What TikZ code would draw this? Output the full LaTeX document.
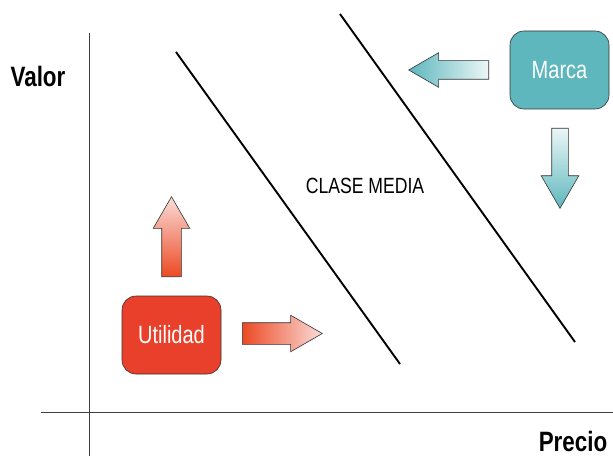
\documentclass[tikz,border=0pt]{standalone}
\usepackage{fontspec}
\setmainfont{Liberation Sans}[FakeStretch=0.8]
\usetikzlibrary{shapes.arrows}

\definecolor{utilred}{HTML}{E8402A}
\definecolor{marcateal}{HTML}{5DB7BD}

\begin{document}
\begin{tikzpicture}[x=1pt, y=1pt,
    axis/.style={draw=black!75, line width=0.9pt},
    divider/.style={draw=black, line width=1.9pt},
    box/.style={draw=black!80, line width=0.6pt, rounded corners=14pt,
      minimum width=99pt, minimum height=78pt, text=white, font=\fontsize{25}{30}\selectfont},
    arrowbox/.style={single arrow, draw=black!80, line width=0.6pt, inner xsep=0pt,
      minimum height=80pt, single arrow tip angle=60, anchor=tail}]
    \useasboundingbox (0,0) rectangle (613,456);

    % ejes
    \draw[axis] (89,423) -- (89,0);
    \draw[axis] (41,44) -- (613,44);
    \node[font=\bfseries\fontsize{28}{32}\selectfont] (valor) at (38,380) {Valor};
    \node[font=\bfseries\fontsize{28}{32}\selectfont] (precio) at (573,15) {Precio};

    % lineas de clase
    \draw[divider] (176,404) -- (400,92);
    \draw[divider] (340,442) -- (575,114);
    \node[font=\fontsize{22}{26}\selectfont] (clase) at (365,270) {CLASE MEDIA};

    % cajas
    \node[box, fill=utilred] (utilidad) at (171.5,121) {Utilidad};
    \node[box, fill=marcateal] (marca) at (559.5,386) {Marca};

    % flechas
    \node[arrowbox, rotate=90, inner ysep=9.5pt, single arrow head extend=8.5pt,
      bottom color=utilred!85!orange, top color=utilred!18] (subir) at (171.5,179) {};
    \node[arrowbox, inner ysep=10.5pt, single arrow head extend=7.5pt,
      left color=utilred!85!orange, right color=utilred!18] (avanzar) at (242,122.5) {};
    \node[arrowbox, rotate=180, inner ysep=9pt, single arrow head extend=8pt,
      left color=marcateal, right color=marcateal!12] (volver) at (489,386) {};
    \node[arrowbox, rotate=-90, inner ysep=8pt, single arrow head extend=10.5pt,
      top color=marcateal!12, bottom color=marcateal] (bajar) at (560,328) {};
\end{tikzpicture}
\end{document}
